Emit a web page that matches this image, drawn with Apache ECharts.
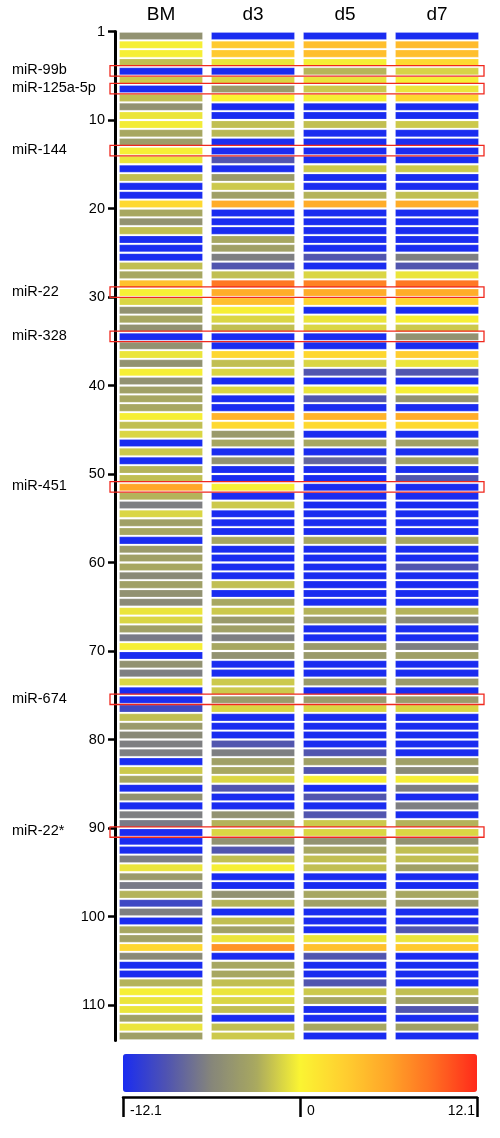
<!DOCTYPE html>
<html>
<head>
<meta charset="utf-8">
<script src="https://cdn.jsdelivr.net/npm/echarts@6/dist/echarts.min.js"></script>
<style>html,body{margin:0;padding:0;background:#fff}#c{width:500px;height:1138px}</style>
</head>
<body>
<div id="c"></div>
<script>
const columns = ['BM', 'd3', 'd5', 'd7'];
const rowCount = 114;
const yTickValues = [0, 10, 20, 30, 40, 50, 60, 70, 80, 90, 100, 110];
const yTickLabels = ['1', '10', '20', '30', '40', '50', '60', '70', '80', '90', '100', '110'];
const highlightRows = [5, 7, 14, 30, 35, 52, 76, 91];
const highlightNames = ['miR-99b', 'miR-125a-5p', 'miR-144', 'miR-22', 'miR-328', 'miR-451', 'miR-674', 'miR-22*'];
const scaleMin = -12.1, scaleMax = 12.1;
const scaleTicks = [-12.1, 0, 12.1];

const valuesBM = [
-5,-0.2,-0.2,-2.1,-12.1,-1.7,-12.1,-2.1,-5,-0.6,
-0.3,-3.1,-4,-0.2,-0.6,-12.1,-2.1,-12.1,-12.1,2.2,
-3.1,-5,-2.1,-12.1,-12.1,-12.1,-2.1,-3.1,4,-0.2,
-1.2,-5,-3.1,-5,-12.1,-5,-0.6,-5,-0.2,-5,
-3.7,-3.1,-3.1,-0.2,-2.1,-1.2,-12.1,-1.7,-12.1,-2.6,
-2.1,6,-2.6,-6.5,-1.2,-3.7,-3.1,-12.1,-4.3,-3.7,
-3.1,-5.7,-3.7,-5,-5.7,-0.6,-1.2,-3.7,-6.8,-0.2,
-12.1,-5,-6.5,-1.2,-12.1,-12.1,-10,-2.1,-4.3,-5.7,
-6.5,-6.5,-12.1,-1.7,-3.1,-12.1,-5,-12.1,-6.5,-6.8,
-12.1,-12.1,-12.1,-6.5,-0.6,-4.3,-6.8,-2.6,-10,-6.5,
-12.1,-3.1,-3.7,2.4,-5.7,-12.1,-12.1,-2.6,-0.2,-0.6,
-0.6,-3.7,-0.6,-3.7
];
const valuesD3 = [
-12.1,3.4,3.4,-0.6,-12.1,-1.2,-4.3,0,-12.1,-12.1,
-2.1,-2.4,-12.1,-12.1,-9,-12.1,-4.3,-1.7,-3.7,5.5,
-12.1,-12.1,-12.1,-3.1,-3.7,-6.5,-9,-2.1,8.5,5.5,
4.2,-0.2,-1.2,-2.1,-12.1,-12.1,2.4,-2.1,-1.2,-12.1,
-1.2,-12.1,-12.1,5,2.2,-4.3,-3.1,-12.1,-5,-12.1,
-12.1,-0.2,-12.1,-1.7,-12.1,-12.1,-12.1,-3.1,-12.1,-12.1,
-12.1,-12.1,-2.1,-12.1,-3.1,-1.7,-4.3,-3.7,-6.5,-3.1,
-5,-12.1,-12.1,-1.7,-1.7,-4.3,-1.2,-12.1,-12.1,-12.1,
-9,-6.5,-3.7,-3.1,-1.2,-9,-12.1,-12.1,-5,-2.6,
-1.2,-5,-9,-2.1,-0.2,-12.1,-12.1,-5,-2.6,-12.1,
-2.1,-3.7,-0.6,7,-12.1,-3.1,-3.1,-2.1,-0.6,-1.2,
-2.1,-12.1,-2.1,-1.7
];
const valuesD5 = [
-12.1,4.2,4.2,-0.2,-2.5,-0.6,-1.7,-0.2,-12.1,-12.1,
-2.1,-12.1,-12.1,-12.1,-12.1,-1.7,-12.1,-12.1,-2.6,5.5,
-12.1,-12.1,-12.1,-12.1,-12.1,-9,-12.1,-1.2,8,5.5,
2.6,-12.1,-0.6,-1.2,-12.1,-12.1,2.4,-1.2,-9,-12.1,
-0.6,-9,-12.1,5,2.2,-12.1,-3.1,-12.1,-8,-12.1,
-12.1,-12.1,-12.1,-12.1,-12.1,-12.1,-12.1,-3.1,-12.1,-12.1,
-12.1,-12.1,-12.1,-12.1,-12.1,-2.6,-4.3,-12.1,-12.1,-4.3,
-4.3,-12.1,-12.1,-4.3,-12.1,-4.3,-1.2,-12.1,-12.1,-12.1,
-12.1,-9,-3.7,-9,-0.2,-12.1,-9,-12.1,-9,-1.7,
-1.2,-5,-3.1,-2.1,-2.1,-12.1,-12.1,-3.1,-3.7,-12.1,
-12.1,-12.1,-0.6,4,-9,-12.1,-12.1,-9,-1.7,-3.1,
-12.1,-12.1,-3.1,-12.1
];
const valuesD7 = [
-12.1,4.5,4.2,2.2,-1.3,-0.2,-0.6,2.4,-12.1,-12.1,
-1.7,-12.1,-12.1,-12.1,-12.1,-1.7,-12.1,-12.1,-2.1,5.5,
-12.1,-12.1,-12.1,-12.1,-12.1,-6.5,-9,-0.6,8.5,5.5,
2.6,-12.1,-0.2,-1.7,-5,-12.1,3.2,-0.6,-9,-12.1,
-0.2,-5,-12.1,5.5,2.2,-12.1,-3.7,-12.1,-3.7,-12.1,
-9,-12.1,-12.1,-12.1,-12.1,-12.1,-12.1,-3.1,-12.1,-12.1,
-9,-12.1,-12.1,-12.1,-12.1,-2.6,-5.7,-12.1,-12.1,-6.5,
-3.7,-12.1,-12.1,-4.3,-12.1,-4.3,-1.2,-12.1,-12.1,-12.1,
-12.1,-12.1,-3.7,-5.7,-0.2,-6.5,-12.1,-6.5,-12.1,-2.6,
-1.2,-5,-2.1,-2.1,-3.7,-12.1,-12.1,-3.1,-4.3,-12.1,
-12.1,-9,-0.6,3.4,-12.1,-12.1,-12.1,-12.1,-2.1,-3.7,
-9,-12.1,-3.7,-12.1
];
const columnValues = [valuesBM, valuesD3, valuesD5, valuesD7];

const cellData = [];
columnValues.forEach((vals, c) => vals.forEach((v, i) => cellData.push([c, i + 1, v])));
const boxData = highlightRows.map((r, i) => [0, r, i]);

const FONT = "'Liberation Sans', Arial, sans-serif";
const chart = echarts.init(document.getElementById('c'), null, {renderer: 'canvas'});
chart.setOption({
  animation: false,
  backgroundColor: '#fff',
  grid: [
    {left: 115, right: 17, top: 31.5, bottom: 97.6},
    {left: 123, right: 23, top: 1090, height: 7}
  ],
  xAxis: [
    {type: 'category', gridIndex: 0, data: columns, position: 'top',
     axisLine: {show: false}, axisTick: {show: false}, splitLine: {show: false},
     axisLabel: {fontSize: 19, color: '#000', margin: 7, fontFamily: FONT}},
    {type: 'value', gridIndex: 1, min: scaleMin, max: scaleMax, position: 'bottom',
     axisLine: {show: true, lineStyle: {color: '#000', width: 2.5}},
     axisTick: {show: true, customValues: scaleTicks, length: 20, inside: false, lineStyle: {color: '#000', width: 2.5}},
     axisLabel: {customValues: scaleTicks, fontSize: 14, color: '#000', margin: 7, fontFamily: FONT,
                 align: 'left', alignMaxLabel: 'right', padding: [0, 2, 0, 7],
                 showMinLabel: true, showMaxLabel: true,
                 formatter: v => String(scaleTicks.find(t => Math.abs(t - v) < 1e-6) ?? v)},
     splitLine: {show: false}}
  ],
  yAxis: [
    {type: 'value', gridIndex: 0, min: 0, max: rowCount, inverse: true,
     axisLine: {show: true, lineStyle: {color: '#000', width: 3}},
     axisTick: {show: true, customValues: yTickValues, length: 7, lineStyle: {color: '#000', width: 2.5}},
     axisLabel: {customValues: yTickValues, fontSize: 14.5, color: '#000', margin: 10, fontFamily: FONT,
                 formatter: v => yTickLabels[yTickValues.indexOf(v)]},
     splitLine: {show: false}},
    {type: 'value', gridIndex: 1, show: false}
  ],
  visualMap: {
    type: 'continuous', seriesIndex: 0, dimension: 2,
    min: scaleMin, max: scaleMax, orient: 'horizontal',
    left: 123, top: 1054, itemWidth: 38, itemHeight: 354, padding: 0,
    calculable: false, hoverLink: false, text: null, show: true,
    inRange: {color: ['#1a2cf0', '#5054b0', '#86867a', '#a8a860', '#fbf432', '#ffcf30', '#ffa528', '#ff6e22', '#ff2a1a']}
  },
  series: [
    {type: 'custom', xAxisIndex: 0, yAxisIndex: 0, data: cellData, clip: false,
     encode: {x: 0, y: 1},
     renderItem: (params, api) => {
       const c = api.value(0), r = api.value(1);
       const p0 = api.coord([c, r - 1]);
       const p1 = api.coord([c, r]);
       const bw = api.size([1, 0])[0];
       const w = bw * 0.902;
       return {type: 'rect',
               shape: {x: p0[0] - w / 2, y: p0[1] + 0.9, width: w, height: p1[1] - p0[1] - 1.8},
               style: {fill: api.visual('color'), stroke: 'rgba(255,255,255,0.35)', lineWidth: 0.6}};
     }},
    {type: 'custom', xAxisIndex: 0, yAxisIndex: 0, data: boxData, clip: false, silent: true,
     encode: {x: 0, y: 1},
     renderItem: (params, api) => {
       const r = api.value(1), idx = api.value(2);
       const cs = params.coordSys;
       const p0 = api.coord([0, r - 1]);
       const p1 = api.coord([0, r]);
       return {type: 'group', children: [
         {type: 'rect', shape: {x: cs.x - 5, y: p0[1] - 1.2, width: cs.width + 6, height: p1[1] - p0[1] + 1.6},
          style: {fill: 'none', stroke: '#f0281e', lineWidth: 1.3}},
         {type: 'text', x: 12, y: (p0[1] + p1[1]) / 2 - 1,
          style: {text: highlightNames[idx], fontSize: 14.5, fontFamily: FONT, fill: '#000', verticalAlign: 'middle', align: 'left'}}
       ]};
     }}
  ]
});
</script>
</body>
</html>
